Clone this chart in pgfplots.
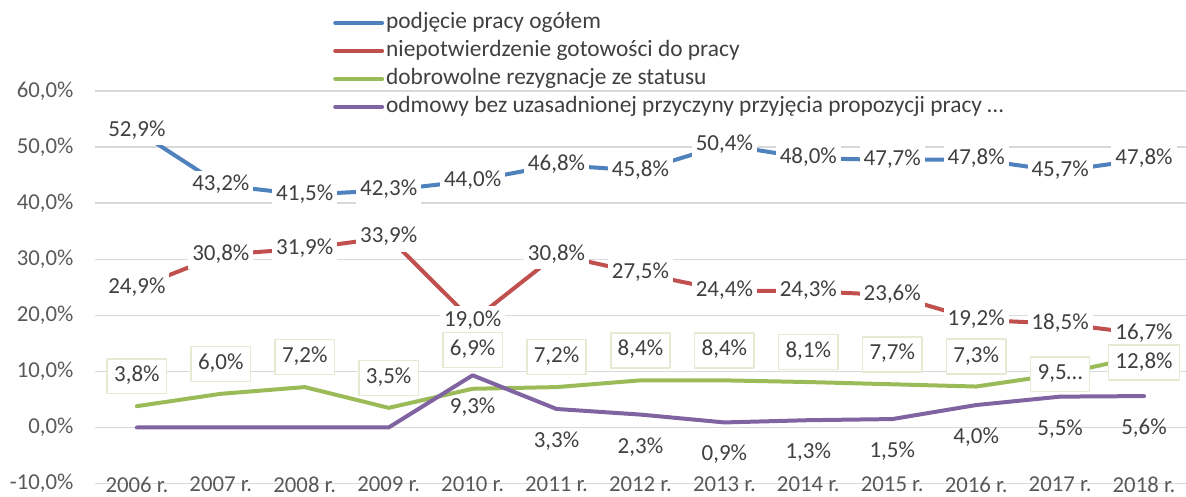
\documentclass[border=0pt]{standalone}
\usepackage{pgfplots}
\pgfplotsset{compat=1.18}
\usepackage{pgfplotstable}
\usepackage{fontspec}
\setmainfont{Carlito}

\definecolor{cblue}{HTML}{4F81BD}
\definecolor{cred}{HTML}{C0504D}
\definecolor{cgreen}{HTML}{9BBB59}
\definecolor{cpurple}{HTML}{8064A2}
\definecolor{txt}{HTML}{404040}
\definecolor{tickc}{HTML}{595959}
\definecolor{gridc}{HTML}{D9D9D9}
\definecolor{boxc}{HTML}{E4EBD3}

% x = year index (0 = 2006), y = share in %, lab = data label
\pgfplotstableread{
x y lab
0 52.9 52,9\%
1 43.2 43,2\%
2 41.5 41,5\%
3 42.3 42,3\%
4 44.0 44,0\%
5 46.8 46,8\%
6 45.8 45,8\%
7 50.4 50,4\%
8 48.0 48,0\%
9 47.7 47,7\%
10 47.8 47,8\%
11 45.7 45,7\%
12 47.8 47,8\%
}\podjecie

\pgfplotstableread{
x y lab
0 24.9 24,9\%
1 30.8 30,8\%
2 31.9 31,9\%
3 33.9 33,9\%
4 19.0 19,0\%
5 30.8 30,8\%
6 27.5 27,5\%
7 24.4 24,4\%
8 24.3 24,3\%
9 23.6 23,6\%
10 19.2 19,2\%
11 18.5 18,5\%
12 16.7 16,7\%
}\niepotw

\pgfplotstableread{
x y lab
0 3.8 3,8\%
1 6.0 6,0\%
2 7.2 7,2\%
3 3.5 3,5\%
4 6.9 6,9\%
5 7.2 7,2\%
6 8.4 8,4\%
7 8.4 8,4\%
8 8.1 8,1\%
9 7.7 7,7\%
10 7.3 7,3\%
11 9.5 9,5…
12 12.8 12,8\%
}\dobrow

\pgfplotstableread{
x y lab
0 0 {}
1 0 {}
2 0 {}
3 0 {}
4 9.3 9,3\%
5 3.3 3,3\%
6 2.3 2,3\%
7 0.9 0,9\%
8 1.3 1,3\%
9 1.5 1,5\%
10 4.0 4,0\%
11 5.5 5,5\%
12 5.6 5,6\%
}\odmowy

\begin{document}
\begin{tikzpicture}
\begin{axis}[
  scale only axis,
  width=546pt, height=196.5pt,
  xmin=-0.5, xmax=12.5, ymin=-10, ymax=60,
  xtick={0,...,12},
  xticklabels={2006 r.,2007 r.,2008 r.,2009 r.,2010 r.,2011 r.,2012 r.,2013 r.,2014 r.,2015 r.,2016 r.,2017 r.,2018 r.},
  ytick={-10,0,10,20,30,40,50,60},
  yticklabels={{-10,0\%},{0,0\%},{10,0\%},{20,0\%},{30,0\%},{40,0\%},{50,0\%},{60,0\%}},
  axis line style={draw=none},
  major tick length=0pt,
  ymajorgrids,
  grid style={gridc, line width=0.7pt},
  font=\fontsize{11.4}{13.7}\selectfont,
  tick label style={text=tickc},
  xticklabel style={yshift=7pt},
  yticklabel style={xshift=-7.2pt},
  clip=false,
  every axis plot/.append style={line width=2pt, line join=round, line cap=round},
  point meta=explicit symbolic,
  nodes near coords={\pgfplotspointmeta},
  nodes near coords align={center},
  every node near coord/.append style={text=txt, fill=white, inner sep=2pt,
    text height=8pt, text depth=2.5pt, font=\fontsize{11.5}{13.7}\selectfont},
  legend style={at={(0.218,1.206)}, anchor=north west, draw=none, fill=none,
    inner sep=0pt, text=txt, font=\fontsize{11.7}{14}\selectfont,
    nodes={inner sep=1pt, text height=8pt, text depth=2.5pt}, row sep=1.5pt},
  legend cell align=left,
  legend image code/.code={\draw[#1, line width=2pt, line cap=round] (0pt,0pt) -- (23.5pt,0pt);},
]
\addplot[cblue, mark=none] table[x=x, y=y, meta=lab] {\podjecie};
\addlegendentry{podjęcie pracy ogółem}
\addplot[cred, mark=none] table[x=x, y=y, meta=lab] {\niepotw};
\addlegendentry{niepotwierdzenie gotowości do pracy}
\addplot[cgreen, mark=none,
  every node near coord/.append style={yshift=15pt, draw=boxc, line width=0.8pt, inner sep=3.5pt},
  coordinate style/.condition={\coordindex==4}{yshift=4.5pt},
  coordinate style/.condition={\coordindex==11}{yshift=-15pt},
  coordinate style/.condition={\coordindex==12}{yshift=-18.5pt}]
  table[x=x, y=y, meta=lab] {\dobrow};
\addlegendentry{dobrowolne rezygnacje ze statusu}
\addplot[cpurple, mark=none,
  every node near coord/.append style={yshift=-16.5pt, fill=none}]
  table[x=x, y=y, meta=lab] {\odmowy};
\addlegendentry{odmowy bez uzasadnionej przyczyny przyjęcia propozycji pracy …}
\coordinate (bl) at (rel axis cs:-0.087,-0.0331);
\coordinate (tr) at (rel axis cs:1,1.2316);
\end{axis}
\pgfresetboundingbox
\path[use as bounding box] (bl) rectangle (tr);
\end{tikzpicture}
\end{document}
